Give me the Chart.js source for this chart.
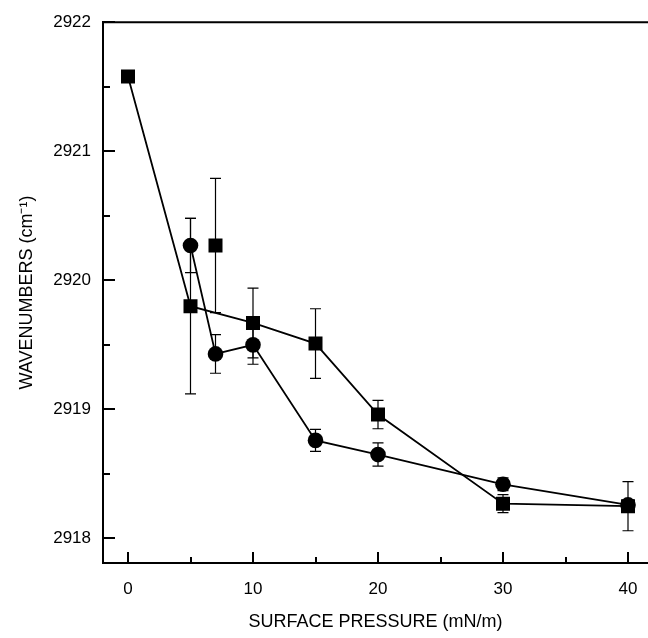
<!DOCTYPE html>
<html>
<head>
<meta charset="utf-8">
<script src="https://cdn.jsdelivr.net/npm/chart.js@4/dist/chart.umd.min.js"></script>
<style>
  html, body { margin: 0; padding: 0; background: #fff; overflow: hidden; }
  #wrap { width: 648px; height: 638px; }
  canvas { display: block; }
</style>
</head>
<body>
<div id="wrap"><canvas id="chart" width="648" height="638"></canvas></div>
<script>
// squares, joined
const pressureSq = [0, 5, 10, 15, 20, 30, 40];
const waveSq = [2921.58, 2919.80, 2919.67, 2919.51, 2918.96, 2918.27, 2918.25];
const errSq = [0, 0.68, 0.27, 0.27, 0.11, 0.07, 0.19];

// lone square at 7 mN/m
const pressureSq7 = [7];
const waveSq7 = [2920.27];
const errSq7 = [0.52];

// circles
const pressureCi = [5, 7, 10, 15, 20, 30, 40];
const waveCi = [2920.27, 2919.43, 2919.50, 2918.76, 2918.65, 2918.42, 2918.26];
const errCi = [0.21, 0.15, 0.15, 0.085, 0.09, 0.05, 0.04];

const xLabels = [0, 10, 20, 30, 40];
const yLabels = [2918, 2919, 2920, 2921, 2922];

const FONT = "'Liberation Sans', Arial, Helvetica, sans-serif";

function pairs(xs, ys) {
    return xs.map((x, i) => ({ x: x, y: ys[i] }));
}

// error bars, drawn under the markers
const errorBars = {
    id: 'errorBars',
    beforeDatasetsDraw(chart) {
        const { ctx, scales: { x, y } } = chart;
        ctx.save();
        ctx.strokeStyle = '#000';
        ctx.lineWidth = 1.2;
        chart.data.datasets.forEach(ds => {
            if (!ds.errors) return;
            ds.data.forEach((p, i) => {
                const e = ds.errors[i];
                if (!e) return;
                const px = x.getPixelForValue(p.x);
                const top = y.getPixelForValue(p.y + e);
                const bot = y.getPixelForValue(p.y - e);
                ctx.beginPath();
                ctx.moveTo(px, top); ctx.lineTo(px, bot);
                ctx.moveTo(px - 5.5, top); ctx.lineTo(px + 5.5, top);
                ctx.moveTo(px - 5.5, bot); ctx.lineTo(px + 5.5, bot);
                ctx.stroke();
            });
        });
        ctx.restore();
    }
};

// top frame line and inward tick marks
const frameTicks = {
    id: 'frameTicks',
    beforeDatasetsDraw(chart) {
        const { ctx, chartArea: a, scales: { x, y } } = chart;
        ctx.save();
        ctx.strokeStyle = '#000';
        ctx.lineWidth = 2;
        ctx.beginPath();
        ctx.moveTo(a.left - 1, a.top);
        ctx.lineTo(a.right, a.top);
        x.ticks.forEach(t => {
            const px = Math.round(x.getPixelForValue(t.value));
            const len = xLabels.includes(t.value) ? 11 : 6;
            ctx.moveTo(px, a.bottom);
            ctx.lineTo(px, a.bottom - len);
        });
        y.ticks.forEach(t => {
            const py = Math.round(y.getPixelForValue(t.value));
            const len = yLabels.includes(t.value) ? 12 : 7;
            ctx.moveTo(a.left, py);
            ctx.lineTo(a.left + len, py);
        });
        ctx.stroke();
        ctx.restore();
    }
};

const ctx = document.getElementById('chart').getContext('2d');
new Chart(ctx, {
    type: 'scatter',
    data: {
        datasets: [
            {
                data: pairs(pressureSq, waveSq),
                errors: errSq,
                showLine: true,
                borderColor: '#000',
                borderWidth: 1.8,
                pointStyle: 'rect',
                pointRadius: 9.9,
                pointBackgroundColor: '#000',
                pointBorderWidth: 0
            },
            {
                data: pairs(pressureSq7, waveSq7),
                errors: errSq7,
                showLine: false,
                pointStyle: 'rect',
                pointRadius: 9.9,
                pointBackgroundColor: '#000',
                pointBorderWidth: 0
            },
            {
                data: pairs(pressureCi, waveCi),
                errors: errCi,
                showLine: true,
                borderColor: '#000',
                borderWidth: 1.8,
                pointStyle: 'circle',
                pointRadius: 7.8,
                pointBackgroundColor: '#000',
                pointBorderWidth: 0
            }
        ]
    },
    options: {
        responsive: false,
        animation: false,
        devicePixelRatio: 1,
        layout: { autoPadding: false, padding: { top: 18, right: 0, left: 0, bottom: 0 } },
        plugins: {
            legend: { display: false },
            tooltip: { enabled: false }
        },
        scales: {
            x: {
                type: 'linear',
                min: -2,
                max: 41.6,
                afterFit: s => {
                    s.height = 75;
                    s.paddingLeft = 0;
                    s.paddingRight = 0;
                },
                grid: { drawOnChartArea: false, drawTicks: false },
                border: { display: true, color: '#000', width: 2 },
                ticks: {
                    stepSize: 5,
                    includeBounds: false,
                    padding: 16,
                    color: '#000',
                    font: { family: FONT, size: 17 },
                    maxRotation: 0,
                    callback: v => xLabels.includes(v) ? String(v) : ''
                },
                title: {
                    display: true,
                    text: 'SURFACE PRESSURE (mN/m)',
                    color: '#000',
                    font: { family: FONT, size: 18 },
                    padding: { top: 0, bottom: 5 }
                }
            },
            y: {
                type: 'linear',
                min: 2917.81,
                max: 2922,
                afterFit: s => { s.width = 103; },
                grid: { drawOnChartArea: false, drawTicks: false },
                border: { display: true, color: '#000', width: 2 },
                ticks: {
                    stepSize: 0.5,
                    includeBounds: false,
                    padding: 12,
                    color: '#000',
                    font: { family: FONT, size: 17 },
                    callback: v => yLabels.includes(v) ? String(v) : ''
                },
                title: {
                    display: true,
                    text: 'WAVENUMBERS (cm⁻¹)',
                    color: '#000',
                    font: { family: FONT, size: 18 },
                    padding: { top: 16, bottom: 0 }
                }
            }
        }
    },
    plugins: [frameTicks, errorBars]
});
</script>
</body>
</html>
